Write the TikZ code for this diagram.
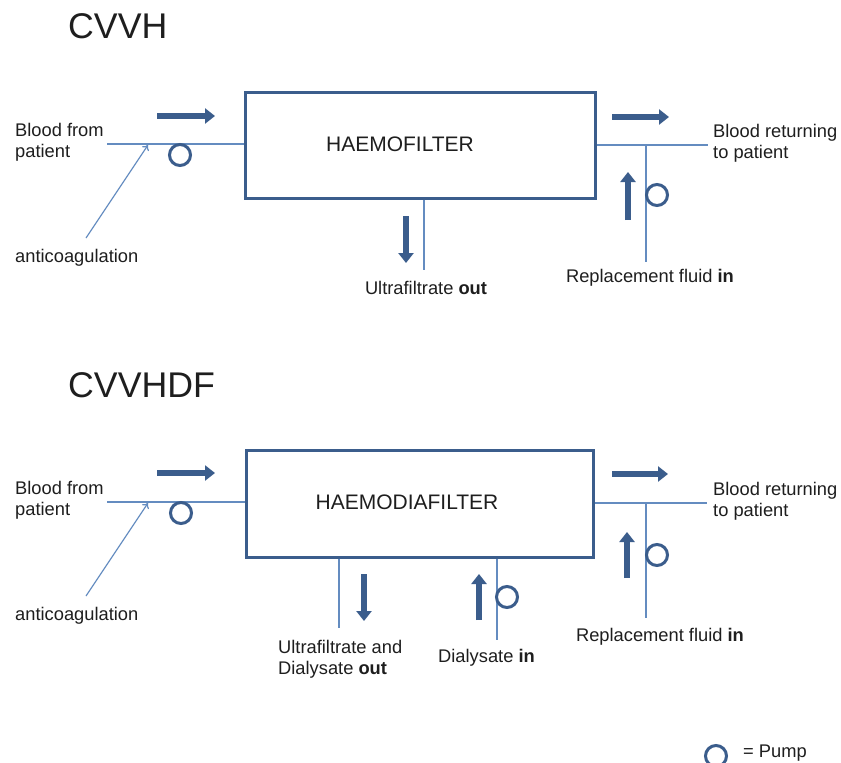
\documentclass[tikz,border=0pt]{standalone}
\usepackage{fontspec}
\setmainfont{Liberation Sans}
\usetikzlibrary{arrows.meta}
\definecolor{boxc}{RGB}{59,93,140}
\definecolor{thinc}{RGB}{100,140,192}
\definecolor{txtc}{RGB}{30,30,30}
\begin{document}
\begin{tikzpicture}[x=1pt,y=-1pt,
  lbl/.style={font=\fontsize{18.3}{21}\selectfont, inner sep=0, align=left, text=txtc},
  ttl/.style={font=\fontsize{35.7}{40}\selectfont, inner sep=0, text=txtc, anchor=west},
  boxlbl/.style={font=\fontsize{21}{24}\selectfont, inner sep=0, text=txtc},
  filter/.style={draw=boxc, line width=3pt, inner sep=0},
  thinline/.style={draw=thinc, line width=1.3pt},
  bigarrow/.style={draw=boxc, line width=6.5pt, -{Triangle[length=10pt,width=15pt]}},
  pump/.style={circle, draw=boxc, line width=3pt, minimum size=21pt, inner sep=0},
  antiarrow/.style={draw=thinc, line width=1.2pt, -{To[length=5pt,width=8pt]}}]
\useasboundingbox (0,0) rectangle (841,763);
\fill[white] (0,0) rectangle (841,763);

% ================= CVVH =================
\node[ttl] (t1) at (68,26) {CVVH};
\node[filter, minimum width=350pt, minimum height=106pt] (box1) at (420,145) {};
\node[boxlbl] (hf) at (400,144) {HAEMOFILTER};

\coordinate (bin1) at (107,144);
\coordinate (bout1) at (708,145);
\coordinate (rep1top) at (646,145);
\coordinate (rep1bot) at (646,262);
\coordinate (uf1bot) at (424,270);
\coordinate (ac1start) at (86,238);
\coordinate (ac1end) at (148,145);

\draw[thinline] (bin1) -- (bin1 -| box1.west);
\draw[thinline] (box1.east |- bout1) -- (bout1);
\draw[thinline] (rep1top) -- (rep1bot);
\draw[thinline] (uf1bot |- box1.south) -- (uf1bot);
\draw[antiarrow] (ac1start) -- (ac1end);

\coordinate (a1s) at (157,116); \coordinate (a1e) at (215,116);
\draw[bigarrow] (a1s) -- (a1e);
\coordinate (a2s) at (612,117); \coordinate (a2e) at (669,117);
\draw[bigarrow] (a2s) -- (a2e);
\coordinate (a3s) at (628,220); \coordinate (a3e) at (628,172);
\draw[bigarrow] (a3s) -- (a3e);
\coordinate (a4s) at (406,216); \coordinate (a4e) at (406,263);
\draw[bigarrow] (a4s) -- (a4e);

\node[pump] (p1) at (180,155) {};
\node[pump] (p2) at (657,195) {};

\node[lbl, anchor=west] (bf1) at (15,142.5) {Blood from\\patient};
\node[lbl, anchor=west] (ac1) at (15,258) {anticoagulation};
\node[lbl, anchor=west] (br1) at (713,143) {Blood returning\\to patient};
\node[lbl] (rf1) at (650,278) {Replacement fluid \textbf{in}};
\node[lbl] (uf1) at (426,288) {Ultrafiltrate \textbf{out}};

% ================= CVVHDF =================
\node[ttl] (t2) at (68,385) {CVVHDF};
\node[filter, minimum width=347pt, minimum height=107pt] (box2) at (419.5,503.5) {};
\node[boxlbl] (hdf) at (407,502) {HAEMODIAFILTER};

\coordinate (bin2) at (107,502);
\coordinate (bout2) at (707,503);
\coordinate (rep2top) at (646,503);
\coordinate (rep2bot) at (646,618);
\coordinate (uf2bot) at (339,628);
\coordinate (dl2bot) at (497,640);
\coordinate (ac2start) at (86,596);
\coordinate (ac2end) at (148,503);

\draw[thinline] (bin2) -- (bin2 -| box2.west);
\draw[thinline] (box2.east |- bout2) -- (bout2);
\draw[thinline] (rep2top) -- (rep2bot);
\draw[thinline] (uf2bot |- box2.south) -- (uf2bot);
\draw[thinline] (dl2bot |- box2.south) -- (dl2bot);
\draw[antiarrow] (ac2start) -- (ac2end);

\coordinate (b1s) at (157,473); \coordinate (b1e) at (215,473);
\draw[bigarrow] (b1s) -- (b1e);
\coordinate (b2s) at (612,474); \coordinate (b2e) at (668,474);
\draw[bigarrow] (b2s) -- (b2e);
\coordinate (b3s) at (627,578); \coordinate (b3e) at (627,532);
\draw[bigarrow] (b3s) -- (b3e);
\coordinate (b4s) at (364,574); \coordinate (b4e) at (364,621);
\draw[bigarrow] (b4s) -- (b4e);
\coordinate (b5s) at (479,620); \coordinate (b5e) at (479,574);
\draw[bigarrow] (b5s) -- (b5e);

\node[pump] (q1) at (181,513) {};
\node[pump] (q2) at (657,555) {};
\node[pump] (q3) at (507,597) {};

\node[lbl, anchor=west] (bf2) at (15,500.5) {Blood from\\patient};
\node[lbl, anchor=west] (ac2) at (15,616) {anticoagulation};
\node[lbl, anchor=west] (br2) at (713,501) {Blood returning\\to patient};
\node[lbl] (rf2) at (660,637) {Replacement fluid \textbf{in}};
\node[lbl, anchor=west] (uf2) at (278,659.5) {Ultrafiltrate and\\Dialysate \textbf{out}};
\node[lbl, anchor=west] (dl2) at (438,658) {Dialysate \textbf{in}};

% ================= Legend =================
\node[pump] (leg) at (716,756) {};
\node[lbl, anchor=west] (legt) at (743,753) {= Pump};
\end{tikzpicture}
\end{document}
